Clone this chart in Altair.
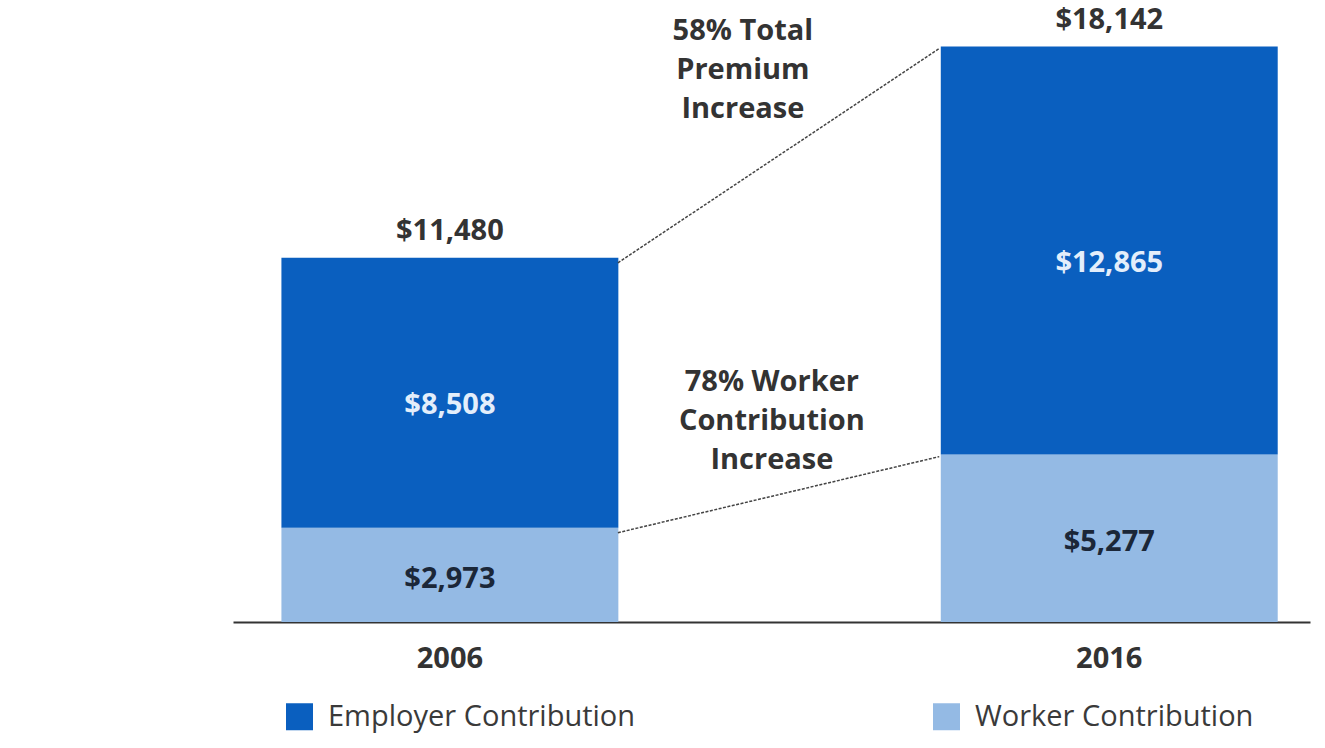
import altair as alt
import pandas as pd

years = ["2006", "2016"]
employer = [8508, 12865]
worker = [2973, 5277]
totals = [11480, 18142]
series = ["Employer Contribution", "Worker Contribution"]
colors = ["#0A5FBF", "#94BAE4"]
annot_total = "58% Total\nPremium\nIncrease"
annot_worker = "78% Worker\nContribution\nIncrease"

rows = []
for i, yr in enumerate(years):
    rows.append({"year": yr, "series": series[1], "value": worker[i], "order": 0,
                 "label": f"${worker[i]:,}"})
    rows.append({"year": yr, "series": series[0], "value": employer[i], "order": 1,
                 "label": f"${employer[i]:,}"})
df = pd.DataFrame(rows)
tot_df = pd.DataFrame({"year": years, "total": totals,
                       "label": [f"${t:,}" for t in totals]})
conn_df = pd.DataFrame({"a": [years[0], years[0]], "b": [years[1], years[1]],
                        "ya": [totals[0], worker[0]], "yb": [totals[1], worker[1]]})
ann1 = pd.DataFrame({"year": [years[0]], "y": [totals[1]], "text": [annot_total]})
ann2 = pd.DataFrame({"year": [years[0]], "y": [worker[1]], "text": [annot_worker]})

FONT = "Open Sans"
xscale = alt.Scale(domain=years, paddingInner=0.489, paddingOuter=0.0612, align=0.6)
yscale = alt.Scale(domain=[0, 19609], nice=False, zero=True)

xenc = alt.X("year:N", scale=xscale, title=None,
             axis=alt.Axis(labelAngle=0, ticks=False, domainColor="#333333", domainWidth=2,
                           labelFont=FONT, labelFontSize=29, labelFontWeight="bold",
                           labelColor="#333333", labelPadding=22, grid=False))

bars = alt.Chart(df).mark_bar().encode(
    x=xenc,
    y=alt.Y("value:Q", stack="zero", scale=yscale, axis=None),
    color=alt.Color("series:N", scale=alt.Scale(domain=series, range=colors),
                    legend=alt.Legend(orient="none", legendX=52, legendY=702,
                                      direction="horizontal", title=None,
                                      symbolType="square", symbolSize=729,
                                      symbolStrokeWidth=0, labelFont=FONT,
                                      labelFontSize=29, labelColor="#3a3a3a",
                                      labelLimit=600, labelOffset=14,
                                      columnPadding=296, padding=0)),
    order=alt.Order("order:Q"),
)

stacked = alt.Chart(df).transform_stack(
    stack="value", as_=["y0", "y1"], groupby=["year"], sort=[alt.SortField("order")]
).transform_calculate(mid="(datum.y0 + datum.y1) / 2")

emp_text = stacked.transform_filter(alt.datum.order == 1).mark_text(
    font=FONT, fontSize=29, fontWeight="bold", color="#E3EEFB", baseline="middle", dy=12
).encode(x=alt.X("year:N", scale=xscale), y=alt.Y("mid:Q", scale=yscale), text="label:N")

wrk_text = stacked.transform_filter(alt.datum.order == 0).mark_text(
    font=FONT, fontSize=29, fontWeight="bold", color="#1B2738", baseline="middle", dy=4
).encode(x=alt.X("year:N", scale=xscale), y=alt.Y("mid:Q", scale=yscale), text="label:N")

tot_text = alt.Chart(tot_df).mark_text(
    font=FONT, fontSize=29, fontWeight="bold", color="#333333", baseline="middle", dy=-27
).encode(x=alt.X("year:N", scale=xscale), y=alt.Y("total:Q", scale=yscale), text="label:N")

connectors = alt.Chart(conn_df).mark_rule(
    color="#444444", strokeWidth=1.5, strokeDash=[3, 1.5],
    xOffset=168, x2Offset=-170, yOffset=5, y2Offset=2
).encode(x=alt.X("a:N", scale=xscale), x2="b:N",
         y=alt.Y("ya:Q", scale=yscale), y2="yb:Q")

a1 = alt.Chart(ann1).mark_text(
    font=FONT, fontSize=29, fontWeight="bold", color="#333333", baseline="middle",
    align="center", lineBreak="\n", lineHeight=39, dx=293, dy=-16
).encode(x=alt.X("year:N", scale=xscale), y=alt.Y("y:Q", scale=yscale), text="text:N")

a2 = alt.Chart(ann2).mark_text(
    font=FONT, fontSize=29, fontWeight="bold", color="#333333", baseline="middle",
    align="center", lineBreak="\n", lineHeight=39, dx=322, dy=-73
).encode(x=alt.X("year:N", scale=xscale), y=alt.Y("y:Q", scale=yscale), text="text:N")

chart = alt.layer(bars, emp_text, wrk_text, tot_text, connectors, a1, a2).properties(
    width=1077, height=622,
    autosize=alt.AutoSizeParams(type="none"),
    padding={"left": 233, "top": 0, "right": 15, "bottom": 126},
    background="white",
).configure_view(stroke=None)

chart.save("out.html", embed_options={"renderer": "svg", "actions": False})
